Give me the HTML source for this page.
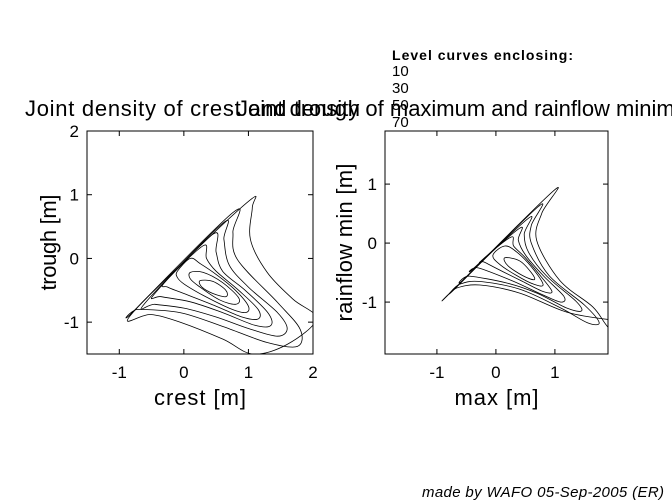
<!DOCTYPE html>
<html><head><meta charset="utf-8"><style>
html,body{margin:0;padding:0;background:#fff;}
svg{display:block;font-family:"Liberation Sans",sans-serif;}
</style></head><body>
<svg id="fig" width="672" height="504" viewBox="0 0 672 504">
<rect width="672" height="504" fill="#fff"/>
<defs>
<clipPath id="clipL"><rect x="87" y="131" width="226" height="223"/></clipPath>
<clipPath id="clipR"><rect x="385" y="131" width="223" height="223"/></clipPath>
</defs>
<g id="left"></g>
<g id="right"></g>
<text x="25" y="116" font-size="22" textLength="335">Joint density of crest and trough</text>
<text x="237" y="116" font-size="22">Joint density of maximum and rainflow minimum</text>
<g>
<text x="392" y="60" font-size="14" font-weight="bold" textLength="181">Level curves enclosing:</text>
<text x="392" y="76" font-size="15">10</text>
<text x="392" y="93" font-size="15">30</text>
<text x="392" y="110" font-size="15">50</text>
<text x="392" y="127" font-size="15">70</text>
</g>
<text x="664" y="497" font-size="15" font-style="italic" text-anchor="end" textLength="242">made by WAFO 05-Sep-2005 (ER)</text>
</svg>
<script>
const NS="http://www.w3.org/2000/svg";
const leftXTicks=[-1,0,1,2];
const leftYTicks=[-1,0,1,2];
const rightXTicks=[-1,0,1];
const rightYTicks=[-1,0,1];
const leftContours=[
[[-0.86,-0.94],[0,-0.05],[1.03,0.92],[1.06,0.8],[1.03,0.3],[1.29,-0.22],[1.69,-0.64],[2.05,-0.95],[1.6,-1.35],[1.07,-1.5],[0.61,-1.27],[-0.06,-1.0],[-0.52,-0.88]],
[[-0.78,-0.83],[0.76,0.72],[0.76,0.41],[0.83,-0.02],[1.45,-0.69],[1.8,-1.11],[1.76,-1.38],[1.29,-1.32],[0.61,-1.07],[-0.06,-0.85],[-0.71,-0.8]],
[[-0.6,-0.7],[0.6,0.55],[0.62,0.3],[0.7,-0.1],[1.0,-0.45],[1.45,-0.85],[1.6,-1.1],[1.45,-1.22],[1.0,-1.1],[0.5,-0.92],[0,-0.78],[-0.45,-0.72]],
[[-0.45,-0.55],[0.45,0.38],[0.5,0.1],[0.6,-0.2],[0.95,-0.5],[1.3,-0.85],[1.35,-1.05],[1.1,-1.05],[0.6,-0.85],[0.1,-0.68],[-0.35,-0.6]],
[[-0.3,-0.38],[0.3,0.2],[0.35,0],[0.5,-0.2],[0.85,-0.5],[1.15,-0.8],[1.15,-0.95],[0.9,-0.92],[0.5,-0.75],[0,-0.55],[-0.25,-0.45]],
[[-0.1,-0.2],[0.1,0],[0.25,-0.08],[0.5,-0.25],[0.8,-0.5],[1.0,-0.75],[0.95,-0.85],[0.7,-0.78],[0.3,-0.58],[0,-0.4],[-0.1,-0.3]],
[[0.1,-0.22],[0.3,-0.22],[0.6,-0.38],[0.85,-0.62],[0.8,-0.72],[0.55,-0.65],[0.25,-0.45],[0.1,-0.32]],
[[0.25,-0.35],[0.45,-0.36],[0.65,-0.5],[0.65,-0.6],[0.45,-0.55],[0.28,-0.45]]
];
const rightContours=[
[[-0.81,-0.88],[0.97,0.88],[0.78,0.51],[0.69,0.05],[1.08,-0.63],[1.64,-1.08],[1.88,-1.4],[2.2,-1.75],[2.3,-1.3],[1.95,-1.3],[1.2,-1.17],[0.41,-0.85],[-0.27,-0.71],[-0.66,-0.76]],
[[-0.7,-0.78],[0.72,0.62],[0.6,0.3],[0.6,0],[0.9,-0.55],[1.5,-1.05],[1.75,-1.35],[1.55,-1.35],[1.1,-1.1],[0.4,-0.78],[-0.3,-0.65],[-0.62,-0.7]],
[[-0.55,-0.62],[0.55,0.42],[0.48,0.15],[0.55,-0.15],[0.85,-0.55],[1.35,-0.98],[1.45,-1.15],[1.2,-1.1],[0.7,-0.85],[0.2,-0.68],[-0.45,-0.56]],
[[-0.4,-0.45],[0.4,0.25],[0.38,0.05],[0.5,-0.2],[0.8,-0.55],[1.15,-0.9],[1.1,-1.0],[0.8,-0.88],[0.3,-0.65],[-0.3,-0.42]],
[[-0.25,-0.3],[0.25,0.1],[0.3,-0.05],[0.5,-0.25],[0.75,-0.55],[0.95,-0.82],[0.8,-0.82],[0.45,-0.65],[0.05,-0.45],[-0.2,-0.32]],
[[-0.05,-0.2],[0.15,-0.05],[0.35,-0.15],[0.6,-0.4],[0.8,-0.7],[0.65,-0.7],[0.35,-0.55],[0.05,-0.35]],
[[0.15,-0.25],[0.4,-0.3],[0.6,-0.5],[0.65,-0.62],[0.45,-0.55],[0.2,-0.38]]
];
function mk(tag,attrs,parent){const e=document.createElementNS(NS,tag);for(const k in attrs)e.setAttribute(k,attrs[k]);parent.appendChild(e);return e;}
function smooth(pts){
  const n=pts.length;let d="M"+pts[0][0].toFixed(1)+","+pts[0][1].toFixed(1);
  for(let i=0;i<n;i++){
    const p0=pts[(i-1+n)%n],p1=pts[i],p2=pts[(i+1)%n],p3=pts[(i+2)%n];
    const c1=[p1[0]+(p2[0]-p0[0])/6,p1[1]+(p2[1]-p0[1])/6];
    const c2=[p2[0]-(p3[0]-p1[0])/6,p2[1]-(p3[1]-p1[1])/6];
    d+="C"+c1[0].toFixed(1)+","+c1[1].toFixed(1)+" "+c2[0].toFixed(1)+","+c2[1].toFixed(1)+" "+p2[0].toFixed(1)+","+p2[1].toFixed(1);
  }
  return d+"Z";
}
function panel(g,box,xr,yr,xt,yt,contours,clip,xlab,ylab,ylabX,pre,xlen,ylen){
  const sx=v=>box.x+(v-xr[0])/(xr[1]-xr[0])*box.w;
  const sy=v=>box.y+box.h-(v-yr[0])/(yr[1]-yr[0])*box.h;
  const cg=mk("g",{"clip-path":"url(#"+clip+")"},g);
  contours.forEach((c,i)=>{
    const p=mk("path",{d:smooth(c.map(q=>[sx(q[0]),sy(q[1])])),fill:"none",stroke:"#000","stroke-width":"0.8"},cg);
    
    
  });
  const fr=mk("rect",{x:box.x,y:box.y,width:box.w,height:box.h,fill:"none",stroke:"#000","stroke-width":"1"},g);
  
  
  xt.forEach(v=>{
    const x=sx(v);
    mk("line",{x1:x,x2:x,y1:box.y+box.h,y2:box.y+box.h-5,stroke:"#000"},g);
    mk("line",{x1:x,x2:x,y1:box.y,y2:box.y+5,stroke:"#000"},g);
    const t=mk("text",{x:x,y:box.y+box.h+24,"font-size":"17","text-anchor":"middle"},g);
    t.textContent=v;
    
    
  });
  yt.forEach(v=>{
    const y=sy(v);
    mk("line",{x1:box.x,x2:box.x+5,y1:y,y2:y,stroke:"#000"},g);
    mk("line",{x1:box.x+box.w,x2:box.x+box.w-5,y1:y,y2:y,stroke:"#000"},g);
    const t=mk("text",{x:box.x-8,y:y+6,"font-size":"17","text-anchor":"end"},g);
    t.textContent=v;
    
    
  });
  const xl=mk("text",{x:box.x+box.w/2,y:405,"font-size":"22","text-anchor":"middle",textLength:xlen},g);
  xl.textContent=xlab;
  
  
  const yl=mk("text",{x:0,y:0,"font-size":"22","text-anchor":"middle",textLength:ylen,transform:"translate("+ylabX+","+(box.y+box.h/2)+") rotate(-90)"},g);
  yl.textContent=ylab;
  
  
}
panel(document.getElementById("left"),{x:87,y:131,w:226,h:223},[-1.5,2],[-1.5,2],leftXTicks,leftYTicks,leftContours,"clipL","crest [m]","trough [m]",56,"left",92,96);
panel(document.getElementById("right"),{x:385,y:131,w:223,h:223},[-1.88,1.9],[-1.88,1.9],rightXTicks,rightYTicks,rightContours,"clipR","max [m]","rainflow min [m]",352,"right",84,158);
</script>
</body></html>
